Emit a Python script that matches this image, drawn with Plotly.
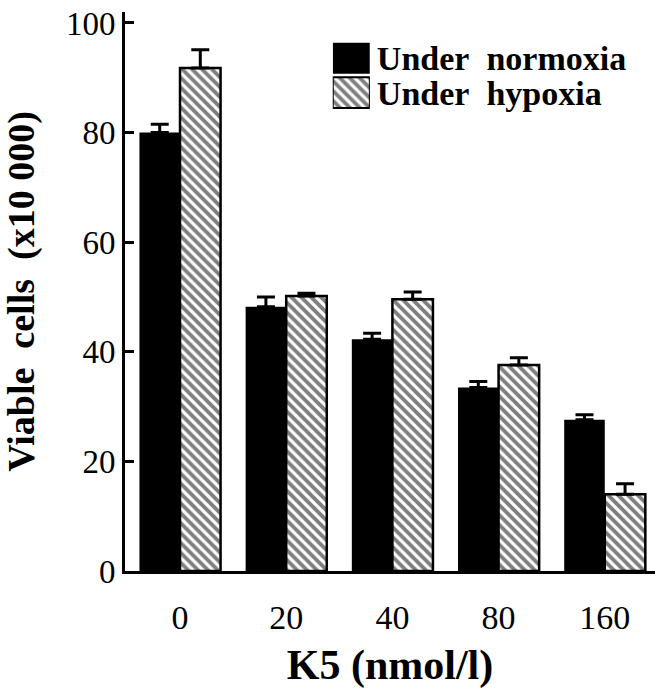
import plotly.graph_objects as go

# ---- data ----
categories = ["0", "20", "40", "80", "160"]
normoxia = [80.0, 48.2, 42.3, 33.5, 27.6]
normoxia_err = [1.5, 1.8, 1.1, 1.1, 0.9]
hypoxia = [91.8, 50.2, 49.6, 37.6, 14.0]
hypoxia_err = [3.3, 0.5, 1.3, 1.3, 1.9]
series_names = ["Under\u00a0\u00a0normoxia", "Under\u00a0\u00a0hypoxia"]
y_ticks = [0, 20, 40, 60, 80, 100]
legend_swatch = [1, 1]

FONT = "Liberation Serif"
HATCH = dict(shape="\\", fgcolor="black", bgcolor="white", size=7, solidity=0.55)

fig = go.Figure()

fig.add_trace(go.Bar(
    x=categories, y=normoxia, name=series_names[0],
    marker=dict(color="black", line=dict(color="black", width=0)),
    error_y=dict(type="data", symmetric=False, array=normoxia_err,
                 arrayminus=[0] * len(normoxia_err),
                 color="black", thickness=3, width=9),
    showlegend=False,
))
fig.add_trace(go.Bar(
    x=categories, y=hypoxia, name=series_names[1],
    marker=dict(color="white", pattern=HATCH,
                line=dict(color="black", width=2.5)),
    error_y=dict(type="data", symmetric=False, array=hypoxia_err,
                 arrayminus=[0] * len(hypoxia_err),
                 color="black", thickness=3, width=9),
    showlegend=False,
))

# legend swatches drawn on a small overlay axis pair
fig.add_trace(go.Bar(
    y=[series_names[0]], x=[legend_swatch[0]], orientation="h",
    xaxis="x2", yaxis="y2",
    marker=dict(color="black", line=dict(width=0)),
    showlegend=False, hoverinfo="skip",
))
fig.add_trace(go.Bar(
    y=[series_names[1]], x=[legend_swatch[1]], orientation="h",
    xaxis="x2", yaxis="y2",
    marker=dict(color="white", pattern=HATCH,
                line=dict(color="black", width=2)),
    showlegend=False, hoverinfo="skip",
))

fig.update_layout(
    width=655, height=691,
    margin=dict(l=125, r=0, t=12, b=120),
    paper_bgcolor="white", plot_bgcolor="white",
    barmode="group", bargap=0.236, bargroupgap=0,
    font=dict(family=FONT, color="black", size=34),
    xaxis=dict(
        range=[-0.518, 4.473],
        showline=True, linecolor="black", linewidth=2.5,
        ticks="", showgrid=False, zeroline=False,
        tickfont=dict(family=FONT, size=34),
        ticklabelstandoff=14,
        title=dict(text="<b>K5 (nmol/l)</b>",
                   font=dict(family=FONT, size=42), standoff=16),
        automargin=False,
    ),
    yaxis=dict(
        range=[0, 102], tickvals=y_ticks, ticktext=[str(v) for v in y_ticks],
        showline=True, linecolor="black", linewidth=3,
        ticks="inside", ticklen=9, tickwidth=3, tickcolor="black",
        showgrid=False, zeroline=False,
        tickfont=dict(family=FONT, size=33),
        title=dict(text="<b>Viable\u00a0\u00a0cells\u00a0\u00a0(x10 000)</b>",
                   font=dict(family=FONT, size=38), standoff=22),
        automargin=False,
    ),
    xaxis2=dict(domain=[0.392, 0.462], anchor="y2", range=[0, 1],
                visible=False, fixedrange=True),
    yaxis2=dict(domain=[0.825, 0.948], anchor="x2", side="right",
                categoryorder="array",
                categoryarray=[series_names[1], series_names[0]],
                tickmode="array", tickvals=[series_names[1], series_names[0]],
                showline=False, ticks="", showgrid=False, zeroline=False,
                tickfont=dict(family=FONT, size=34, weight="bold"),
                ticklabelstandoff=6, fixedrange=True),
)
fig.update_traces(selector=dict(xaxis="x2"), width=0.9)

fig.write_html("out.html",
               config={"displayModeBar": False},
               post_script="document.body.style.margin='0';")
